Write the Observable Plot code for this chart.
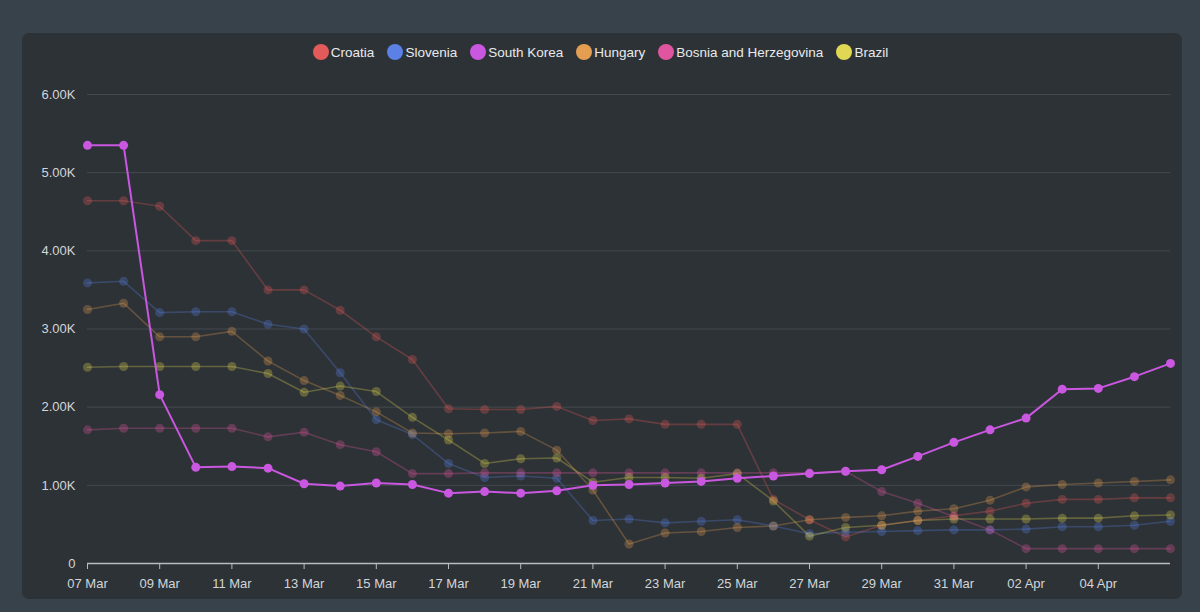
<!DOCTYPE html>
<html>
<head>
<meta charset="utf-8">
<script src="https://cdn.jsdelivr.net/npm/d3@7"></script>
<script src="https://cdn.jsdelivr.net/npm/@observablehq/plot@0.6"></script>
<style>
  html, body { margin: 0; padding: 0; background: #37424a; width: 1200px; height: 612px; overflow: hidden; }
  #panel { position: absolute; left: 22px; top: 33px; width: 1160px; height: 566px; background: #2d3236; border-radius: 7px; }
  #chart { position: absolute; left: 0; top: 0; }
  #legend { position: absolute; left: 0; top: 44px; width: 1200px; display: flex; justify-content: center; align-items: center;
            font-family: "Liberation Sans", Arial, sans-serif; font-size: 13.5px; color: #e8eaec; }
  .item { display: flex; align-items: center; margin: 0 6px 0 7px; }
  .sw { width: 16px; height: 16px; border-radius: 50%; margin-right: 2px; }
</style>
</head>
<body>
<div id="panel"></div>
<div id="chart"></div>
<div id="legend"></div>
<script>
const dates = ["2020-03-07","2020-03-08","2020-03-09","2020-03-10","2020-03-11","2020-03-12","2020-03-13","2020-03-14",
  "2020-03-15","2020-03-16","2020-03-17","2020-03-18","2020-03-19","2020-03-20","2020-03-21","2020-03-22","2020-03-23",
  "2020-03-24","2020-03-25","2020-03-26","2020-03-27","2020-03-28","2020-03-29","2020-03-30","2020-03-31","2020-04-01",
  "2020-04-02","2020-04-03","2020-04-04","2020-04-05","2020-04-06"];
const countries = ["Croatia","Slovenia","South Korea","Hungary","Bosnia and Herzegovina","Brazil"];
const colors = ["#e35a5a","#5b80e6","#c957e0","#e39e52","#e0559f","#e0d852"];
const croatia = [4640,4640,4570,4130,4130,3500,3500,3240,2900,2610,1980,1970,1970,2010,1830,1850,1780,1780,1780,820,560,340,490,550,610,670,770,820,820,840,840];
const slovenia = [3590,3610,3210,3220,3220,3060,3000,2440,1840,1650,1280,1100,1120,1090,550,570,520,540,560,480,380,400,410,420,430,430,440,470,470,490,540];
const southKorea = [5350,5350,2160,1230,1240,1220,1020,990,1030,1010,900,920,900,930,1000,1010,1030,1050,1090,1120,1150,1180,1200,1370,1550,1710,1860,2230,2240,2390,2560];
const hungary = [3250,3330,2900,2900,2970,2590,2340,2150,1940,1670,1660,1670,1690,1450,940,250,390,410,460,480,560,590,610,670,700,810,980,1010,1030,1050,1070];
const bosnia = [1710,1730,1730,1730,1730,1620,1680,1520,1430,1150,1150,1160,1160,1160,1160,1160,1160,1160,1160,1160,1160,1180,920,770,600,430,190,190,190,190,190];
const brazil = [2510,2520,2520,2520,2520,2430,2190,2270,2200,1870,1580,1280,1340,1350,1040,1100,1100,1090,1150,800,350,460,490,550,570,570,570,580,580,610,620];
const xTicks = ["2020-03-07","2020-03-09","2020-03-11","2020-03-13","2020-03-15","2020-03-17","2020-03-19","2020-03-21",
  "2020-03-23","2020-03-25","2020-03-27","2020-03-29","2020-03-31","2020-04-02","2020-04-04"];
const yTicks = [0,1000,2000,3000,4000,5000,6000];

const seriesValues = [croatia, slovenia, southKorea, hungary, bosnia, brazil];
const parse = d3.utcParse("%Y-%m-%d");
const rows = [];
countries.forEach((c, i) => seriesValues[i].forEach((v, j) => rows.push({country: c, date: parse(dates[j]), value: v})));
const faded = rows.filter(d => d.country !== "South Korea");
const focus = rows.filter(d => d.country === "South Korea");

const plot = Plot.plot({
  width: 1200, height: 612,
  marginLeft: 87, marginRight: 30, marginTop: 94, marginBottom: 49,
  style: {background: "transparent", color: "#d2d6da", fontSize: "13px", fontFamily: "'Liberation Sans', Arial, sans-serif"},
  x: {type: "utc", domain: [parse(dates[0]), parse(dates[dates.length - 1])]},
  y: {domain: [0, 6000]},
  color: {domain: countries, range: colors},
  marks: [
    Plot.gridY(yTicks.filter(t => t > 0), {stroke: "#43494e", strokeOpacity: 1, strokeWidth: 1}),
    Plot.axisY(yTicks, {tickSize: 0, tickPadding: 12, label: null,
      tickFormat: d => d === 0 ? "0" : (d / 1000).toFixed(2) + "K", fill: "#d2d6da"}),
    Plot.axisX(xTicks.map(parse), {tickSize: 6, tickPadding: 9, label: null, stroke: "#b8bcc0",
      tickFormat: d3.utcFormat("%d %b"), fill: "#d2d6da"}),
    Plot.ruleY([0], {stroke: "#b8bcc0", strokeWidth: 1.5}),
    Plot.line(faded, {x: "date", y: "value", z: "country", stroke: "country", strokeWidth: 1.6, strokeOpacity: 0.3}),
    Plot.dot(faded, {x: "date", y: "value", fill: "country", r: 4.5, fillOpacity: 0.3}),
    Plot.line(focus, {x: "date", y: "value", stroke: "country", strokeWidth: 2}),
    Plot.dot(focus, {x: "date", y: "value", fill: "country", r: 4.5})
  ]
});
document.getElementById("chart").appendChild(plot);

const legend = document.getElementById("legend");
countries.forEach((c, i) => {
  const item = document.createElement("div");
  item.className = "item";
  const sw = document.createElement("div");
  sw.className = "sw";
  sw.style.background = colors[i];
  const t = document.createElement("span");
  t.textContent = c;
  item.appendChild(sw);
  item.appendChild(t);
  legend.appendChild(item);
});
</script>
</body>
</html>
